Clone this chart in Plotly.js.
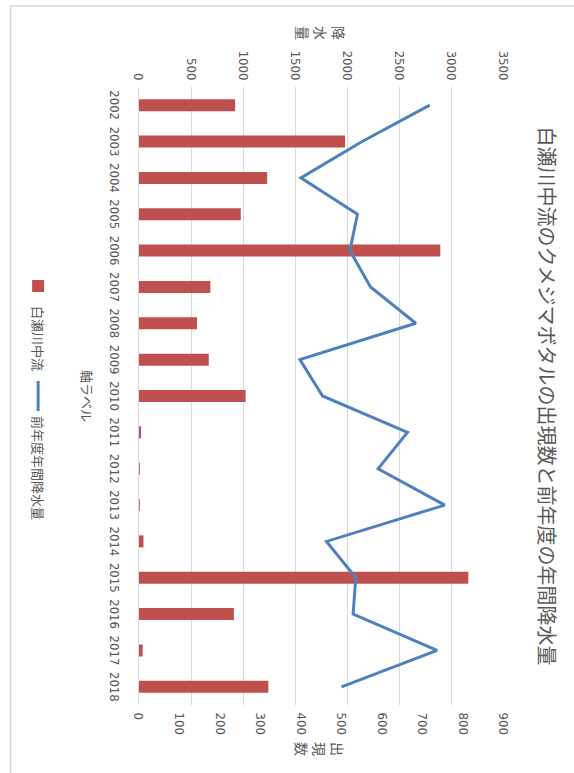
<!DOCTYPE html>
<html>
<head>
<meta charset="utf-8">
<script src="https://cdn.plot.ly/plotly-3.0.1.min.js"></script>
<style>
  html, body { margin: 0; padding: 0; background: #ffffff; overflow: hidden; }
  #frame { position: absolute; left: 0; top: 0; width: 574px; height: 773px; overflow: hidden; }
  /* the chart is laid out landscape and turned a quarter clockwise */
  #chart {
    position: absolute; left: 0; top: 0;
    width: 773px; height: 574px;
    transform-origin: 0 0;
    transform: translate(574px, 0) rotate(90deg);
  }
</style>
</head>
<body>
<div id="frame"><div id="chart"></div></div>
<script>
// Survey years
const years = ['2002','2003','2004','2005','2006','2007','2008','2009','2010',
               '2011','2012','2013','2014','2015','2016','2017','2018'];

// Firefly sightings, Shirase River middle reach
const fireflyCounts = [237, 508, 316, 251, 743, 176, 143, 172, 263,
                       5, 2, 2, 11, 812, 234, 9, 319];

// Previous fiscal year's annual rainfall (mm)
const prevYearRainfall = [2788, 2140, 1552, 2095, 2022, 2220, 2654, 1543, 1760,
                          2574, 2293, 2932, 1798, 2079, 2053, 2858, 1942];

const countTicks = [0, 100, 200, 300, 400, 500, 600, 700, 800, 900];
const rainTicks = [0, 500, 1000, 1500, 2000, 2500, 3000, 3500];

const chartTitle = '白瀬川中流のクメジマボタルの出現数と前年度の年間降水量';
const seriesNames = ['白瀬川中流', '前年度年間降水量'];
const rainAxisTitle = '降水量';
const countAxisTitle = '出現数';
const categoryAxisTitle = '軸ラベル';

const GRAY = '#595959';
const GRID = '#d9d9d9';
const CJK = '"Noto Sans CJK JP", "Noto Sans", sans-serif';
const NUM = '"Liberation Sans Narrow", "DejaVu Sans Condensed", "Noto Sans CJK JP", sans-serif';

// stack characters vertically, one per line
const stacked = s => Array.from(s).join('<br>');

const traces = [
  {
    type: 'bar',
    name: seriesNames[0],
    x: years,
    y: fireflyCounts,
    yaxis: 'y',
    marker: { color: '#C0504D' },
    hoverinfo: 'x+y'
  },
  {
    type: 'scatter',
    mode: 'lines',
    name: seriesNames[1],
    x: years,
    y: prevYearRainfall,
    yaxis: 'y2',
    line: { color: '#4F81BD', width: 3 },
    hoverinfo: 'x+y'
  }
];

const layout = {
  width: 773,
  height: 574,
  margin: { l: 87, r: 68, t: 70, b: 139 },
  paper_bgcolor: '#ffffff',
  plot_bgcolor: '#ffffff',
  showlegend: true,
  bargap: 0.67,
  font: { family: CJK, color: GRAY },
  title: {
    text: chartTitle,
    font: { family: CJK, size: 20, color: GRAY },
    xref: 'paper', x: 0.5, xanchor: 'center',
    yref: 'container', y: 1 - 28 / 574, yanchor: 'middle'
  },
  xaxis: {
    type: 'category',
    categoryarray: years,
    showgrid: false,
    showline: true,
    linecolor: GRID,
    linewidth: 1,
    ticks: 'outside', ticklen: 12, tickcolor: 'rgba(0,0,0,0)',
    tickfont: { family: NUM, size: 13, color: GRAY },
    zeroline: false
  },
  // count axis on the right
  yaxis: {
    side: 'right',
    range: [0, 900],
    tickvals: countTicks,
    showgrid: false,
    zeroline: false,
    showline: false,
    ticks: 'outside', ticklen: 4, tickcolor: 'rgba(0,0,0,0)',
    tickfont: { family: NUM, size: 13, color: GRAY }
  },
  // rainfall axis on the left, carrying the gridlines
  yaxis2: {
    side: 'left',
    overlaying: 'y',
    range: [0, 3500],
    tickvals: rainTicks,
    showgrid: true,
    gridcolor: GRID,
    gridwidth: 1,
    zeroline: false,
    showline: false,
    ticks: 'outside', ticklen: 3, tickcolor: 'rgba(0,0,0,0)',
    tickfont: { family: NUM, size: 13, color: GRAY }
  },
  legend: {
    orientation: 'h',
    x: 0.5, xanchor: 'center',
    y: -0.2765, yanchor: 'middle',
    font: { family: CJK, size: 13, color: GRAY },
    traceorder: 'normal',
    bgcolor: 'rgba(0,0,0,0)'
  },
  annotations: [
    {
      text: stacked(rainAxisTitle),
      xref: 'paper', yref: 'paper',
      x: -0.087, y: 0.5, xanchor: 'center', yanchor: 'middle',
      showarrow: false,
      font: { family: CJK, size: 14, color: GRAY }
    },
    {
      text: stacked(countAxisTitle),
      xref: 'paper', yref: 'paper',
      x: 1.072, y: 0.495, xanchor: 'center', yanchor: 'middle',
      showarrow: false,
      font: { family: CJK, size: 14, color: GRAY }
    },
    {
      text: categoryAxisTitle,
      xref: 'paper', yref: 'paper',
      x: 0.5, y: -0.14, xanchor: 'center', yanchor: 'middle',
      showarrow: false,
      font: { family: CJK, size: 13, color: GRAY }
    }
  ],
  shapes: [
    {
      type: 'rect',
      xref: 'paper', yref: 'paper',
      x0: -0.131, x1: 1.3, y0: -0.352, y1: 1.4,
      line: { color: GRID, width: 1.5 },
      fillcolor: 'rgba(0,0,0,0)',
      layer: 'below'
    }
  ]
};

Plotly.newPlot('chart', traces, layout, { displayModeBar: false, staticPlot: true });
</script>
</body>
</html>
